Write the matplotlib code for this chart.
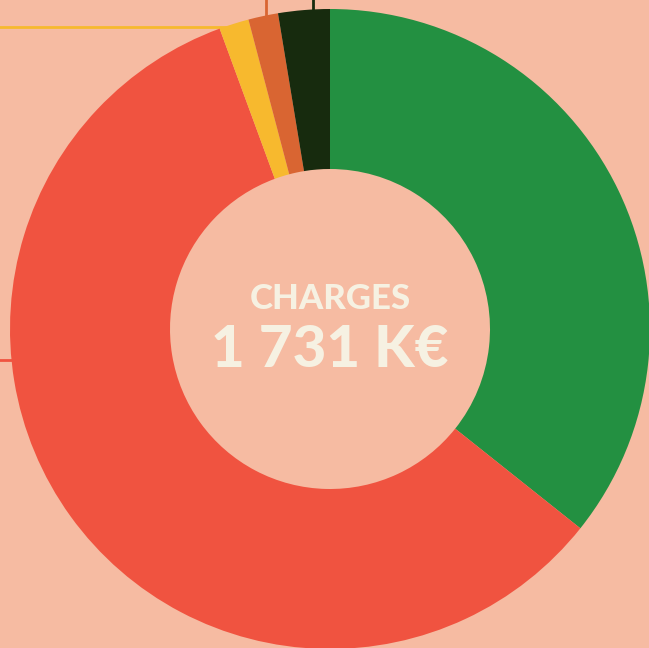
import numpy as np
import matplotlib
matplotlib.use("Agg")
import matplotlib.pyplot as plt

BG = "#F6BBA2"
TXT = "#F6F1E2"

# charges breakdown, K€ (total 1 731)
labels = ["A", "B", "C", "D", "E"]
values = [618, 1016, 26, 26, 45]
colors = ["#239041", "#F05340", "#F7B92E", "#D96532", "#172B0E"]

fig = plt.figure(figsize=(6.49, 6.48), dpi=100, facecolor=BG)
ax = fig.add_axes([0, 0, 1, 1])
ax.set_facecolor(BG)

wedges, _ = ax.pie(values, colors=colors, startangle=90, counterclock=False,
                   radius=1.0, wedgeprops=dict(width=0.5, linewidth=0),
                   center=(0, 0))

# the chart is cropped: centre sits at (330, 329) px, radius 320 px
ax.set_xlim(-330 / 320, 319 / 320)
ax.set_ylim(-319 / 320, 329 / 320)
ax.set_aspect("equal")
ax.axis("off")

# leader lines of the (cropped away) labels
def mid(w, r):
    a = np.deg2rad((w.theta1 + w.theta2) / 2)
    return r * np.cos(a), r * np.sin(a)

x0, y0 = ax.get_xlim()[0], ax.get_ylim()[1]
xm, ym = mid(wedges[2], 0.95)
ax.plot([x0, xm], [0.944, 0.944], color=colors[2], lw=2, zorder=0)
xm, ym = mid(wedges[3], 0.95)
ax.plot([xm, xm], [y0, ym], color=colors[3], lw=2, zorder=0)
ax.plot([-0.053, -0.053], [y0, 0.97], color=colors[4], lw=2, zorder=0)
ax.plot([x0, -0.95], [-0.097, -0.097], color=colors[1], lw=2, zorder=0)

total = sum(values)
fam = ["Lato", "DejaVu Sans"]
ax.text(0, (329 - 299) / 320, "CHARGES", ha="center", va="center",
        fontsize=25, fontweight="black", family=fam, color=TXT)
ax.text(0, (329 - 351) / 320, f"{total // 1000} {total % 1000:03d} K€",
        ha="center", va="center", fontsize=42, fontweight="black",
        family=fam, color=TXT)

fig.savefig("out.png", dpi=100, facecolor=BG)
